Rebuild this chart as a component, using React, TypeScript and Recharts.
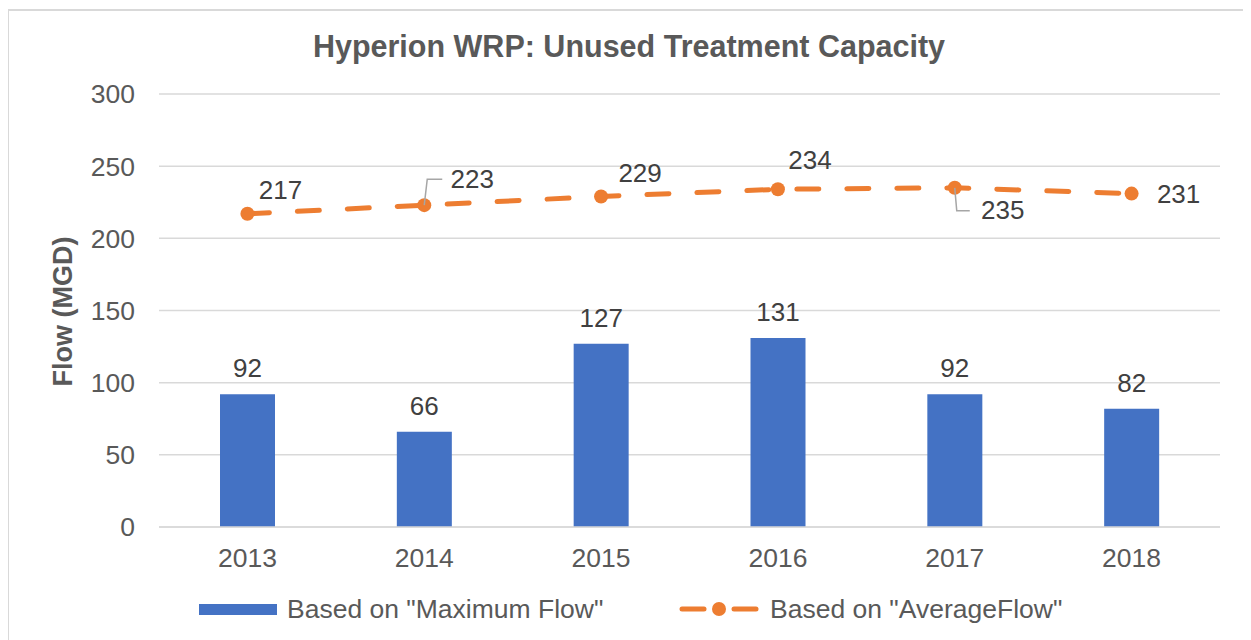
import React from "react";
import { ComposedChart, Bar, Line, XAxis, YAxis, CartesianGrid, Legend, LabelList } from "recharts";

const years = ["2013", "2014", "2015", "2016", "2017", "2018"];
const maxFlow = [92, 66, 127, 131, 92, 82];
const avgFlow = [217, 223, 229, 234, 235, 231];
const yTicks = [0, 50, 100, 150, 200, 250, 300];

const BLUE = "#4472C4";
const ORANGE = "#ED7D31";
const GREY = "#595959";
const FONT = "'Liberation Sans', Arial, sans-serif";

const data = years.map((year, i) => ({ year, max: maxFlow[i], avg: avgFlow[i] }));

// label placement for the line labels (dx, dy from the point, optional leader line)
const avgLabelPos = [
    { dx: 33, dy: -15 },
    { dx: 48, dy: -17, leader: [[3, -26], [18, -26]] },
    { dx: 39, dy: -14 },
    { dx: 32, dy: -20 },
    { dx: 48, dy: 31, leader: [[2, 23], [15, 23]] },
    { dx: 47, dy: 9 },
];

const AvgLabel = (props: any) => {
    const { x, y, value, index } = props;
    const pos = avgLabelPos[index] || { dx: 0, dy: -10 };
    return (
        <g>
            {pos.leader && (
                <polyline
                    points={[[0, 0], ...pos.leader].map((p) => `${x + p[0]},${y + p[1]}`).join(" ")}
                    fill="none"
                    stroke="#a6a6a6"
                    strokeWidth={1.5}
                />
            )}
            <text x={x + pos.dx} y={y + pos.dy} textAnchor="middle" fontSize={26} fill="#404040" fontFamily={FONT}>
                {value}
            </text>
        </g>
    );
};

const YLabel = (props: any) => {
    const { viewBox } = props;
    const cx = viewBox.x + 54;
    const cy = viewBox.y + viewBox.height / 2 + 1;
    return (
        <text
            x={cx}
            y={cy}
            transform={`rotate(-90, ${cx}, ${cy})`}
            textAnchor="middle"
            dominantBaseline="central"
            fontSize={27}
            fontWeight="bold"
            fill={GREY}
            fontFamily={FONT}
        >
            Flow (MGD)
        </text>
    );
};

const LegendBox = () => (
    <div style={{ position: "relative", height: 30, fontFamily: FONT, fontSize: 26.5, color: GREY }}>
        <div style={{ position: "absolute", left: 190, top: 10, width: 78, height: 11, background: BLUE }} />
        <div style={{ position: "absolute", left: 278, top: 0, lineHeight: "30px", whiteSpace: "nowrap" }}>
            Based on "Maximum Flow"
        </div>
        <svg style={{ position: "absolute", left: 669, top: 7 }} width={82} height={16}>
            <line x1={4} y1={8} x2={26} y2={8} stroke={ORANGE} strokeWidth={5} strokeLinecap="round" />
            <circle cx={41} cy={8} r={7} fill={ORANGE} />
            <line x1={56} y1={8} x2={78} y2={8} stroke={ORANGE} strokeWidth={5} strokeLinecap="round" />
        </svg>
        <div style={{ position: "absolute", left: 761, top: 0, lineHeight: "30px", whiteSpace: "nowrap" }}>
            Based on "AverageFlow"
        </div>
    </div>
);

const App: React.FC = () => {
    return (
        <div
            style={{
                position: "relative",
                left: -1,
                top: 1,
                width: 1240,
                height: 632,
                borderTop: "2px solid #d9d9d9",
                borderLeft: "2px solid #d9d9d9",
                background: "#fff",
            }}
        >
            <style>{"body{overflow:hidden}"}</style>
            <div
                style={{
                    position: "absolute",
                    left: 0,
                    top: 20,
                    width: 1240,
                    textAlign: "center",
                    fontFamily: FONT,
                    fontSize: 30.5,
                    lineHeight: "30px",
                    fontWeight: "bold",
                    color: GREY,
                }}
            >
                Hyperion WRP: Unused Treatment Capacity
            </div>
            <ComposedChart width={1240} height={620} data={data} margin={{ top: 83, right: 29, left: 0, bottom: 7 }}>
                <CartesianGrid vertical={false} stroke="#d9d9d9" strokeWidth={1.5} />
                <XAxis
                    dataKey="year"
                    height={67}
                    tickLine={false}
                    axisLine={{ stroke: "#d9d9d9", strokeWidth: 1.5 }}
                    tickMargin={15}
                    tick={{ fontSize: 26.5, fill: GREY, fontFamily: FONT }}
                />
                <YAxis
                    width={150}
                    domain={[0, 300]}
                    ticks={yTicks}
                    tickLine={false}
                    axisLine={false}
                    tickMargin={18}
                    tick={{ fontSize: 26.5, fill: GREY, fontFamily: FONT }}
                    label={<YLabel />}
                />
                <Legend verticalAlign="bottom" content={<LegendBox />} />
                <Bar dataKey="max" name='Based on "Maximum Flow"' fill={BLUE} barSize={55} isAnimationActive={false}>
                    <LabelList dataKey="max" position="top" offset={17} fontSize={26} fill="#404040" fontFamily={FONT} />
                </Bar>
                <Line
                    dataKey="avg"
                    name='Based on "AverageFlow"'
                    stroke={ORANGE}
                    strokeWidth={5}
                    strokeDasharray="22 28"
                    strokeLinecap="round"
                    dot={{ r: 7, fill: ORANGE, stroke: "none" }}
                    activeDot={false}
                    label={<AvgLabel />}
                    isAnimationActive={false}
                />
            </ComposedChart>
        </div>
    );
};

export default App;
